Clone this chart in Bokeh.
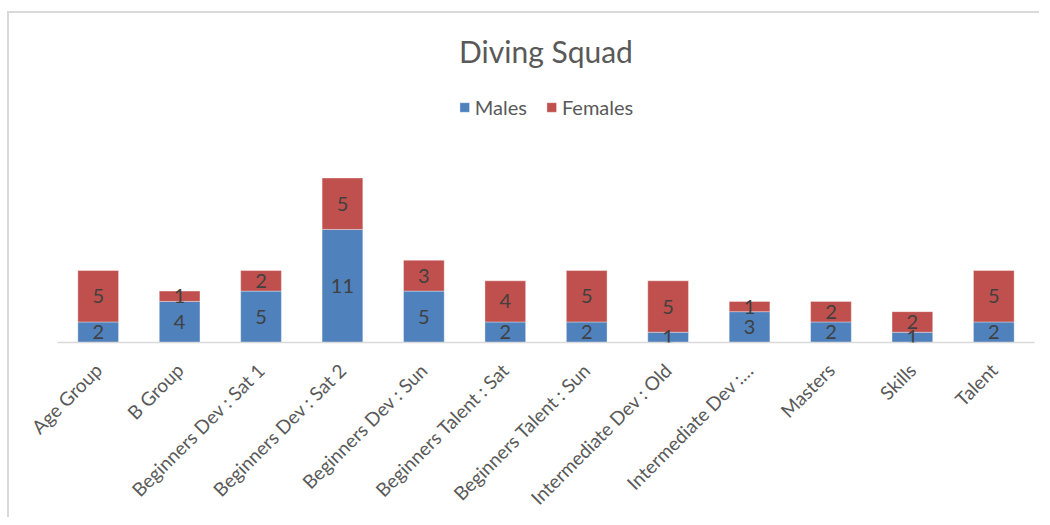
import math
from bokeh.plotting import figure
from bokeh.models import ColumnDataSource, LabelSet, Range1d
from bokeh.core.properties import value
from bokeh.embed import file_html
from bokeh.resources import INLINE

categories = ["Age Group", "B Group", "Beginners Dev : Sat 1", "Beginners Dev : Sat 2",
              "Beginners Dev : Sun", "Beginners Talent : Sat", "Beginners Talent : Sun",
              "Intermediate Dev : Old", "Intermediate Dev :\u2026", "Masters", "Skills", "Talent"]
males = [2, 4, 5, 11, 5, 2, 2, 1, 3, 2, 1, 2]
females = [5, 1, 2, 5, 3, 4, 5, 5, 1, 2, 2, 5]
series = ["Males", "Females"]
colors = ["#4F81BD", "#C0504D"]

FONT = "Lato"

src = ColumnDataSource(dict(cat=categories, Males=males, Females=females))

p = figure(x_range=categories, y_range=Range1d(0, 25), width=1032, height=506,
           output_backend="svg", toolbar_location=None,
           min_border_left=48, min_border_right=7, min_border_top=72, min_border_bottom=177,
           title="Diving Squad")
p.styles = {"border-left": "2px solid #d9d9d9", "border-top": "2px solid #d9d9d9",
            "margin-top": "11px", "margin-left": "7px"}

p.vbar_stack(series, x="cat", width=0.5, color=colors, source=src,
             line_color="white", line_width=0.6, line_alpha=0.6,
             legend_label=series)

# segment labels
m_mid = [m / 2 for m in males]
f_mid = [m + f / 2 for m, f in zip(males, females)]
lab_src = ColumnDataSource(dict(
    x=categories + categories,
    y=m_mid + f_mid,
    t=[str(v) for v in males] + [str(v) for v in females]))
labels = LabelSet(x="x", y="y", text="t", source=lab_src, text_align="center",
                  text_baseline="middle", text_color="#404040", text_font_size="20px",
                  text_font=value(FONT))
p.add_layout(labels)

p.title.align = "center"
p.title.text_font = FONT
p.title.text_font_size = "30px"
p.title.text_font_style = "normal"
p.title.text_color = "#595959"
p.title.standoff = 34

p.yaxis.visible = False
p.xgrid.grid_line_color = None
p.ygrid.grid_line_color = None
p.outline_line_color = None
p.xaxis.axis_line_color = "#d9d9d9"
p.xaxis.axis_line_width = 1.5
p.xaxis.major_tick_line_color = None
p.xaxis.minor_tick_line_color = None
p.xaxis.major_label_orientation = math.pi / 4
p.xaxis.major_label_text_font = FONT
p.xaxis.major_label_text_font_size = "19px"
p.xaxis.major_label_text_color = "#595959"
p.xaxis.major_label_standoff = 18
p.x_range.range_padding = 0
p.x_range.group_padding = 0

lg = p.legend[0]
lg.orientation = "horizontal"
lg.location = "top_center"
lg.margin = 10
lg.padding = 0
lg.spacing = 18
lg.label_standoff = 5
lg.glyph_width = 12
lg.glyph_height = 12
lg.label_height = 20
lg.label_text_font = FONT
lg.label_text_font_size = "20px"
lg.label_text_color = "#595959"
lg.background_fill_alpha = 0
lg.border_line_color = None

open("out.html", "w").write(file_html(p, INLINE))
